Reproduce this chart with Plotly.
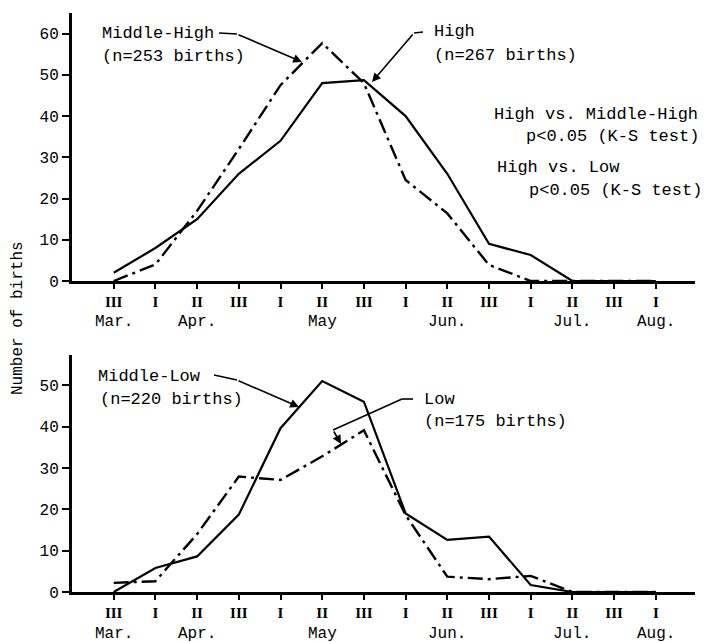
import plotly.graph_objects as go

# ---- data ----
periods = ["III", "I", "II", "III", "I", "II", "III", "I", "II", "III", "I", "II", "III", "I"]
period_pos = list(range(1, 15))
months = ["Mar.", "Apr.", "May", "Jun.", "Jul.", "Aug."]
month_pos = [1, 3, 6, 9, 12, 14]

high = [2, 8, 15, 26, 34, 48, 48.7, 40, 26, 9, 6.3, 0, 0, 0]
middle_high = [0, 4, 17, 32, 47.5, 57.7, 48, 24.5, 16.4, 3.9, 0, 0, 0, 0]
middle_low = [0, 5.8, 8.6, 18.7, 39.6, 51, 46, 19, 12.6, 13.4, 1.7, 0, 0, 0]
low = [2.2, 2.6, 14, 27.9, 27.1, 32.8, 39.1, 18.6, 3.7, 3.1, 3.9, 0, 0, 0]

top_yticks = [0, 10, 20, 30, 40, 50, 60]
bot_yticks = [0, 10, 20, 30, 40, 50]

# ---- geometry helpers (window pixel -> paper); page body has an 8px margin ----
OFF = 8
W, H = 708 - OFF, 642 - OFF
ML, MR, MT, MB = 72 - OFF, 13, 13 - OFF, 50
PW, PH = W - ML - MR, H - MT - MB


def pxx(x):
    return (x - OFF - ML) / PW


def pxy(y):
    return (H - MB - (y - OFF)) / PH


MONO = "Liberation Mono, Courier New, monospace"
SERIF = "Liberation Serif, Times New Roman, serif"
DASHDOT = "15px,5px,3px,5px"

fig = go.Figure()
fig.add_trace(go.Scatter(x=period_pos, y=high, mode="lines", xaxis="x", yaxis="y",
                         line=dict(color="black", width=2.2), name="High"))
fig.add_trace(go.Scatter(x=period_pos, y=middle_high, mode="lines", xaxis="x", yaxis="y",
                         line=dict(color="black", width=2.4, dash=DASHDOT), name="Middle-High"))
fig.add_trace(go.Scatter(x=period_pos, y=middle_low, mode="lines", xaxis="x2", yaxis="y2",
                         line=dict(color="black", width=2.2), name="Middle-Low"))
fig.add_trace(go.Scatter(x=period_pos, y=low, mode="lines", xaxis="x2", yaxis="y2",
                         line=dict(color="black", width=2.4, dash=DASHDOT), name="Low"))

xcommon = dict(range=[0, 14.94], tickmode="array", tickvals=period_pos, ticktext=periods,
               ticks="outside", ticklen=5, tickwidth=1.5, tickcolor="black",
               showline=True, linewidth=3, linecolor="black", showgrid=False, zeroline=False,
               automargin=False,
               tickfont=dict(family=SERIF, size=15, color="black", weight="bold"))
ycommon = dict(tickmode="array", ticks="outside", ticklen=7, tickwidth=1.5, tickcolor="black",
               showline=True, linewidth=3, linecolor="black", showgrid=False, zeroline=False,
               automargin=False,
               tickfont=dict(family=MONO, size=16, color="black"))

top_dom = [pxy(281), 1]
bot_dom = [0, pxy(355)]

fig.update_layout(
    width=W, height=H, margin=dict(l=ML, r=MR, t=MT, b=MB),
    paper_bgcolor="white", plot_bgcolor="white", showlegend=False,
    xaxis=dict(xcommon, anchor="y"),
    yaxis=dict(ycommon, domain=top_dom, range=[0, 65], tickvals=top_yticks, anchor="x"),
    xaxis2=dict(xcommon, anchor="y2"),
    yaxis2=dict(ycommon, domain=bot_dom, range=[0, 57.3], tickvals=bot_yticks, anchor="x2"),
)

ann = []
# month labels
for m, p in zip(months, month_pos):
    ann.append(dict(x=p, xref="x", y=pxy(322), yref="paper", text=m, showarrow=False,
                    xanchor="center", yanchor="middle",
                    font=dict(family=MONO, size=16, color="black")))
    ann.append(dict(x=p, xref="x2", y=pxy(634), yref="paper", text=m, showarrow=False,
                    xanchor="center", yanchor="middle",
                    font=dict(family=MONO, size=16, color="black")))


def label(x, y, text):
    ann.append(dict(x=pxx(x), xref="paper", y=pxy(y), yref="paper", text=text, showarrow=False,
                    xanchor="left", yanchor="middle", font=dict(family=MONO, size=17, color="black")))


label(100, 33, "Middle-High")
label(100, 56, "(n=253 births)")
label(432, 32, "High")
label(432, 55, "(n=267 births)")
label(492, 115, "High vs. Middle-High")
label(524, 137, "p<0.05 (K-S test)")
label(495, 167, "High vs. Low")
label(527, 190, "p<0.05 (K-S test)")
label(96, 376, "Middle-Low")
label(98, 399, "(n=220 births)")
label(422, 399, "Low")
label(422, 421, "(n=175 births)")


def arrow(hx, hy, tx, ty):
    ann.append(dict(x=pxx(hx), xref="paper", y=pxy(hy), yref="paper", text="", showarrow=True,
                    ax=tx - hx, ay=ty - hy, arrowhead=2, arrowsize=1.1, arrowwidth=1.6,
                    arrowcolor="black"))


arrow(302, 62, 237, 34)
arrow(372, 82, 414, 33)
arrow(299, 407, 237, 380)
arrow(341, 444, 333, 430)

ann.append(dict(x=pxx(18), xref="paper", y=pxy(318), yref="paper", text="Number of births",
                xanchor="center", yanchor="middle",
                showarrow=False, textangle=-90, font=dict(family=MONO, size=16, color="black")))

fig.update_layout(annotations=ann)


def seg(x0, y0, x1, y1):
    fig.add_shape(type="line", xref="paper", yref="paper", x0=pxx(x0), y0=pxy(y0),
                  x1=pxx(x1), y1=pxy(y1), line=dict(color="black", width=1.6))


seg(219, 33, 237, 34)
seg(414, 33, 423, 32)
seg(214, 375, 237, 380)
seg(413, 399, 402, 399)
seg(402, 399, 333, 430)

fig.write_html("out.html")
